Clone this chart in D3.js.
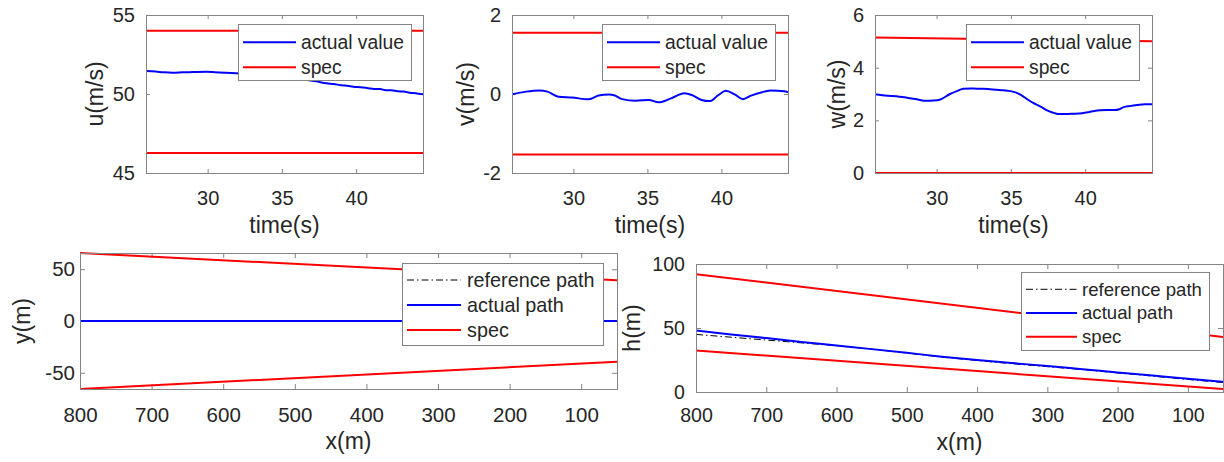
<!DOCTYPE html>
<html>
<head>
<meta charset="utf-8">
<script src="https://cdn.jsdelivr.net/npm/d3@7"></script>
<style>
  html, body { margin: 0; padding: 0; background: #fff; }
  svg { display: block; font-family: "Liberation Sans", Arial, Helvetica, sans-serif; }
</style>
</head>
<body>
<svg id="fig" width="1224" height="462"></svg>
<script>
// ---------- time histories ----------
const timeRange = [25.85, 44.5];
const timeTicks = [30, 35, 40];

const uTime   = [25.85, 26.5, 27.0, 27.65, 28.3, 29.0, 29.9, 30.5, 31.2, 31.9, 32.6, 33.3, 34.0, 34.7, 35.4, 36.0, 36.6, 37.3, 38.0, 38.5, 39.0, 39.4, 39.8, 40.3, 40.8, 41.2, 41.6, 42.0, 42.4, 42.8, 43.2, 43.6, 44.0, 44.5];
const uActual = [51.45, 51.42, 51.38, 51.35, 51.37, 51.39, 51.41, 51.38, 51.34, 51.31, 51.28, 51.24, 51.2, 51.14, 51.07, 51.0, 50.9, 50.8, 50.68, 50.63, 50.55, 50.52, 50.46, 50.43, 50.37, 50.32, 50.31, 50.24, 50.23, 50.17, 50.16, 50.08, 50.05, 49.98];
const uSpecUpper = [54.0, 54.0];
const uSpecLower = [46.27, 46.27];
const uRange = [45, 55];
const uTicks = [45, 50, 55];

const vTime   = [25.85, 26.8, 27.7, 28.25, 29.0, 29.9, 31.05, 31.7, 32.4, 32.8, 33.3, 34.2, 35.1, 35.75, 36.6, 37.5, 38.0, 38.65, 39.2, 39.8, 40.3, 40.9, 41.45, 42.0, 42.9, 43.35, 44.25, 44.5];
const vActual = [-0.01, 0.06, 0.09, 0.06, -0.07, -0.09, -0.135, -0.04, -0.015, -0.04, -0.13, -0.17, -0.15, -0.21, -0.11, 0.02, -0.025, -0.15, -0.18, -0.025, 0.08, -0.01, -0.13, -0.04, 0.06, 0.09, 0.07, 0.04];
const vSpecUpper = [1.55, 1.55];
const vSpecLower = [-1.53, -1.53];
const vRange = [-2, 2];
const vTicks = [-2, 0, 2];

const wTime   = [25.85, 26.5, 27.5, 28.0, 28.65, 29.3, 29.8, 30.2, 30.9, 31.4, 31.8, 32.3, 32.7, 33.1, 33.6, 34.0, 34.5, 35.2, 35.7, 36.1, 36.5, 37.0, 37.4, 37.8, 38.2, 38.7, 39.2, 39.6, 40.3, 41.0, 41.5, 42.0, 42.3, 42.6, 43.0, 43.5, 44.0, 44.5];
const wActual = [2.99, 2.94, 2.9, 2.86, 2.8, 2.74, 2.75, 2.78, 3.0, 3.12, 3.2, 3.21, 3.2, 3.2, 3.18, 3.16, 3.14, 3.08, 2.96, 2.8, 2.66, 2.52, 2.39, 2.3, 2.24, 2.24, 2.25, 2.26, 2.32, 2.38, 2.39, 2.39, 2.42, 2.5, 2.54, 2.58, 2.61, 2.61];
const wSpecUpper = [5.15, 5.0];
const wSpecLower = [0, 0];
const wRange = [0, 6];
const wTicks = [0, 2, 4, 6];

// ---------- path along track ----------
const xRange = [50, 800];
const xTicks = [100, 200, 300, 400, 500, 600, 700, 800];
const xStations = [800, 750, 700, 650, 600, 550, 500, 450, 400, 350, 300, 250, 200, 150, 100, 50];
const xSpecEnds = [800, 50];

const yReference = [0, 0, 0, 0, 0, 0, 0, 0, 0, 0, 0, 0, 0, 0, 0, 0];
const yActual    = [0, 0, 0, 0, 0, 0, 0, 0, 0, 0, 0, 0, 0, 0, 0, 0];
const ySpecUpper = [65.7, 39.4];
const ySpecLower = [-65.7, -39.4];
const yRange = [-65.7, 65.7];
const yTicks = [-50, 0, 50];

const hReference = [45, 42.8, 40.6, 38.4, 36.1, 33.5, 30.4, 27.3, 24.6, 22.1, 19.8, 17.5, 14.9, 12.4, 9.8, 7.4];
const hActual    = [48, 45, 42.1, 39.1, 36.3, 33.5, 30.6, 27.6, 25.0, 22.6, 20.3, 17.8, 15.3, 12.8, 10.3, 8.0];
const hSpecUpper = [92, 42.9];
const hSpecLower = [32.4, 2.3];
const hRange = [0, 100];
const hTicks = [0, 50, 100];

// ---------- labels ----------
const legendTime = ["actual value", "spec"];
const legendPath = ["reference path", "actual path", "spec"];

const BLUE = "#0000ff", RED = "#ff0000", INK = "#262626", FRAME = "#848484";
const svg = d3.select("#fig");

// plain ASCII hyphen for negative tick values
const tickFmt = d => String(d);

function drawPanel(o) {
  const g = svg.append("g");
  const x = d3.scaleLinear().domain(o.xDomain).range(o.reverseX ? [o.right, o.left] : [o.left, o.right]);
  const y = d3.scaleLinear().domain(o.yDomain).range([o.bottom, o.top]);

  const clipId = "clip-" + o.id;
  svg.append("clipPath").attr("id", clipId).append("rect")
    .attr("x", o.left).attr("y", o.top - 1)
    .attr("width", o.right - o.left).attr("height", o.bottom - o.top + 2);

  // axes with inward ticks on all four sides
  const styleAxis = (sel, fs) => {
    sel.select(".domain").remove();
    sel.selectAll(".tick line").attr("stroke", FRAME);
    sel.selectAll(".tick text").attr("fill", INK).attr("font-size", fs);
    sel.attr("font-family", null);
  };
  g.append("g").attr("transform", `translate(0,${o.bottom})`)
    .call(d3.axisBottom(x).tickValues(o.xTicks).tickFormat(tickFmt).tickSize(-o.tick).tickPadding(o.xPad))
    .call(s => styleAxis(s, o.tickFont));
  g.append("g").attr("transform", `translate(0,${o.top})`)
    .call(d3.axisTop(x).tickValues(o.xTicks).tickFormat("").tickSize(-o.tick))
    .call(s => styleAxis(s, o.tickFont));
  g.append("g").attr("transform", `translate(${o.left},0)`)
    .call(d3.axisLeft(y).tickValues(o.yTicks).tickFormat(tickFmt).tickSize(-o.tick).tickPadding(o.yPad))
    .call(s => styleAxis(s, o.tickFont));
  g.append("g").attr("transform", `translate(${o.right},0)`)
    .call(d3.axisRight(y).tickValues(o.yTicks).tickFormat("").tickSize(-o.tick))
    .call(s => styleAxis(s, o.tickFont));

  // series
  const plot = g.append("g").attr("clip-path", `url(#${clipId})`);
  o.series.forEach(s => {
    const xs = s.xs;
    const line = d3.line()
      .x(i => x(xs[i]))
      .y(i => y(s.ys[i]))
      .curve(xs.length > 2 ? d3.curveMonotoneX : d3.curveLinear);
    // monotone curve needs increasing screen x; order indices accordingly
    const idx = d3.range(xs.length).sort((a, b) => x(xs[a]) - x(xs[b]));
    plot.append("path")
      .attr("d", line(idx))
      .attr("fill", "none")
      .attr("stroke", s.color)
      .attr("stroke-width", s.width)
      .attr("stroke-dasharray", s.dash || null)
      .attr("stroke-linejoin", "round");
  });

  // frame
  g.append("rect")
    .attr("x", o.left + 0.5).attr("y", o.top + 0.5)
    .attr("width", o.right - o.left).attr("height", o.bottom - o.top)
    .attr("fill", "none").attr("stroke", FRAME).attr("stroke-width", 1);

  // axis labels
  g.append("text")
    .attr("x", (o.left + o.right) / 2).attr("y", o.xLabelY)
    .attr("text-anchor", "middle").attr("fill", INK)
    .attr("font-size", o.labelFont).text(o.xLabel);
  g.append("text")
    .attr("transform", `translate(${o.yLabelX},${(o.top + o.bottom) / 2}) rotate(-90)`)
    .attr("text-anchor", "middle").attr("fill", INK)
    .attr("font-size", o.labelFont).text(o.yLabel);

  // legend
  const L = o.legend;
  const lg = g.append("g");
  lg.append("rect")
    .attr("x", L.x + 0.5).attr("y", L.y + 0.5)
    .attr("width", L.w).attr("height", L.h)
    .attr("fill", "#fff").attr("stroke", FRAME).attr("stroke-width", 1);
  L.items.forEach((it, k) => {
    const ry = L.firstRow + k * L.rowStep;
    lg.append("line")
      .attr("x1", L.x + L.lineStart).attr("x2", L.x + L.lineEnd)
      .attr("y1", ry).attr("y2", ry)
      .attr("stroke", it.color).attr("stroke-width", it.width)
      .attr("stroke-dasharray", it.dash || null);
    lg.append("text")
      .attr("x", L.x + L.textStart).attr("y", ry + L.baseShift)
      .attr("fill", INK).attr("font-size", L.font).text(it.label);
  });
}

const DASHDOT = "7,3,1.5,3";

// ---------- top row: velocity components ----------
const topRow = [
  { id: "u", left: 146, right: 423, yLabelX: 103, yLabel: "u(m/s)", yDomain: uRange, yTicks: uTicks,
    time: uTime, actual: uActual, up: uSpecUpper, lo: uSpecLower, legendX: 238 },
  { id: "v", left: 512, right: 788, yLabelX: 474, yLabel: "v(m/s)", yDomain: vRange, yTicks: vTicks,
    time: vTime, actual: vActual, up: vSpecUpper, lo: vSpecLower, legendX: 602 },
  { id: "w", left: 875, right: 1152, yLabelX: 845, yLabel: "w(m/s)", yDomain: wRange, yTicks: wTicks,
    time: wTime, actual: wActual, up: wSpecUpper, lo: wSpecLower, legendX: 966 }
];

topRow.forEach(p => {
  drawPanel({
    id: p.id, left: p.left, right: p.right, top: 15, bottom: 173,
    xDomain: timeRange, xTicks: timeTicks, yDomain: p.yDomain, yTicks: p.yTicks,
    tick: 4, xPad: 18, yPad: 11, tickFont: 20, labelFont: 23,
    xLabel: "time(s)", xLabelY: 233, yLabel: p.yLabel, yLabelX: p.yLabelX,
    series: [
      { xs: timeRange, ys: p.up, color: RED, width: 2 },
      { xs: timeRange, ys: p.lo, color: RED, width: 2 },
      { xs: p.time, ys: p.actual, color: BLUE, width: 2 }
    ],
    legend: {
      x: p.legendX, y: 24, w: 173, h: 56, font: 19.3,
      firstRow: 42.3, rowStep: 25, lineStart: 5, lineEnd: 58, textStart: 63, baseShift: 6.6,
      items: [
        { label: legendTime[0], color: BLUE, width: 2 },
        { label: legendTime[1], color: RED, width: 2 }
      ]
    }
  });
});

// ---------- bottom row: lateral and vertical track ----------
drawPanel({
  id: "y", left: 80, right: 617, top: 253, bottom: 389, reverseX: true,
  xDomain: xRange, xTicks: xTicks, yDomain: yRange, yTicks: yTicks,
  tick: 5, xPad: 18, yPad: 5, tickFont: 20.5, labelFont: 23,
  xLabel: "x(m)", xLabelY: 449, yLabel: "y(m)", yLabelX: 30,
  series: [
    { xs: xSpecEnds, ys: ySpecUpper, color: RED, width: 2 },
    { xs: xSpecEnds, ys: ySpecLower, color: RED, width: 2 },
    { xs: xStations, ys: yReference, color: "#000", width: 1, dash: DASHDOT },
    { xs: xStations, ys: yActual, color: BLUE, width: 2 }
  ],
  legend: {
    x: 402, y: 263, w: 201, h: 82, font: 19.8,
    firstRow: 280, rowStep: 25, lineStart: 5, lineEnd: 59, textStart: 65, baseShift: 6.8,
    items: [
      { label: legendPath[0], color: "#000", width: 1, dash: DASHDOT },
      { label: legendPath[1], color: BLUE, width: 2 },
      { label: legendPath[2], color: RED, width: 2 }
    ]
  }
});

drawPanel({
  id: "h", left: 696, right: 1223, top: 264, bottom: 392, reverseX: true,
  xDomain: xRange, xTicks: xTicks, yDomain: hRange, yTicks: hTicks,
  tick: 5, xPad: 16.5, yPad: 11, tickFont: 19.6, labelFont: 23,
  xLabel: "x(m)", xLabelY: 450, yLabel: "h(m)", yLabelX: 640,
  series: [
    { xs: xSpecEnds, ys: hSpecUpper, color: RED, width: 2 },
    { xs: xSpecEnds, ys: hSpecLower, color: RED, width: 2 },
    { xs: xStations, ys: hReference, color: "#000", width: 1, dash: DASHDOT },
    { xs: xStations, ys: hActual, color: BLUE, width: 2 }
  ],
  legend: {
    x: 1021, y: 272, w: 188, h: 78, font: 18.6,
    firstRow: 289.3, rowStep: 23.7, lineStart: 5, lineEnd: 56, textStart: 61, baseShift: 6.4,
    items: [
      { label: legendPath[0], color: "#000", width: 1, dash: DASHDOT },
      { label: legendPath[1], color: BLUE, width: 2 },
      { label: legendPath[2], color: RED, width: 2 }
    ]
  }
});
</script>
</body>
</html>
